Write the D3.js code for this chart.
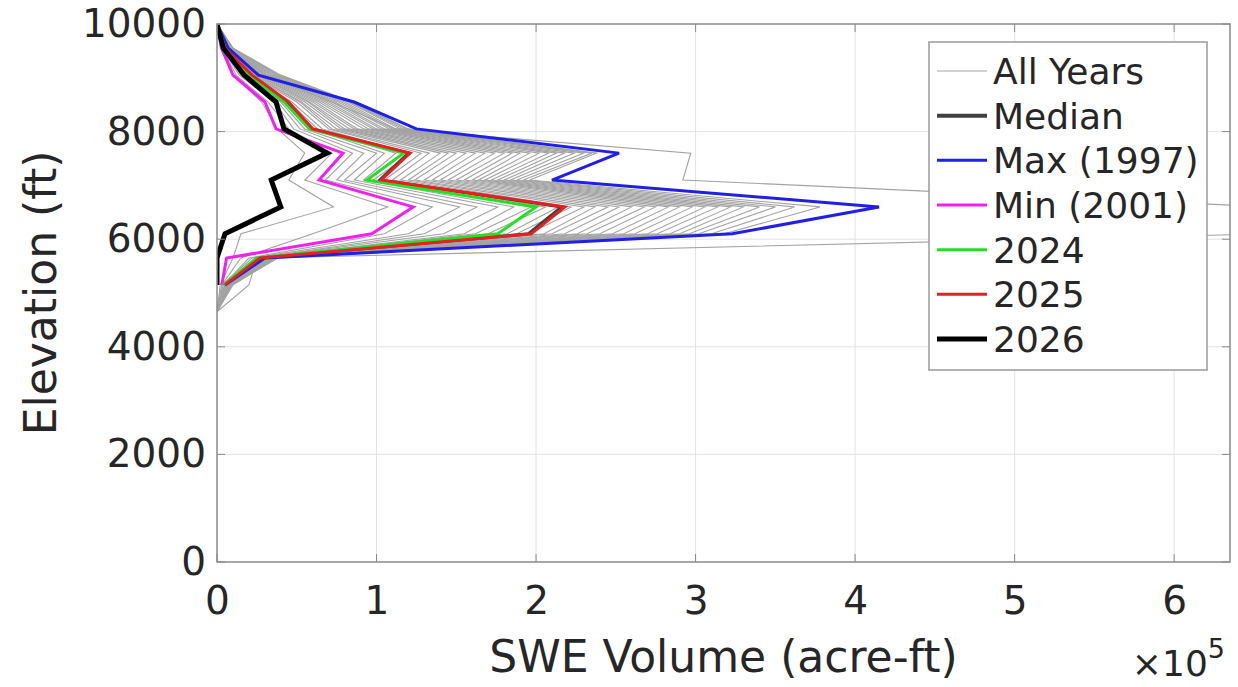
<!DOCTYPE html>
<html>
    <head>
        <title>SWE Volume by Elevation</title>
        <meta charset="utf-8" />
        <script src="https://d3js.org/d3.v7.min.js"></script>
        <style>
            body {
                margin: 0;
                background-color: white;
            }
            svg {
                font-family: 'DejaVu Sans', sans-serif;
            }
        </style>
    </head>
    <body>
        <svg></svg>
        <script>
            // elevation bins (ft)
            const elevations = [4650, 5150, 5650, 6100, 6600, 7100, 7600, 8050, 8550, 9050, 9550, 10000]

            // SWE volume per bin, x 10^5 acre-ft
            const allYears = [
                [0, 0.02, 0.10, 0.15, 0.73, 0.45, 0.55, 0.38, 0.28, 0.10, 0.02, 0],
                [0, 0.03, 0.15, 0.60, 1.07, 0.55, 0.72, 0.45, 0.32, 0.12, 0.03, 0],
                [0, 0.04, 0.20, 1.05, 1.35, 0.68, 0.85, 0.48, 0.36, 0.14, 0.03, 0],
                [0, 0.03, 0.22, 1.20, 1.52, 0.75, 0.92, 0.52, 0.38, 0.15, 0.04, 0],
                [0, 0.20, 0.25, 1.30, 1.63, 0.80, 1.00, 0.55, 0.40, 0.16, 0.04, 0],
                [0, 0.04, 0.24, 1.42, 1.76, 0.86, 1.05, 0.60, 0.42, 0.18, 0.04, 0],
                [0, 0.05, 0.26, 1.55, 1.86, 0.92, 1.12, 0.63, 0.45, 0.19, 0.05, 0],
                [0, 0.06, 0.28, 1.62, 1.97, 0.98, 1.22, 0.66, 0.47, 0.20, 0.05, 0],
                [0, 0.05, 0.27, 1.70, 2.06, 1.05, 1.28, 0.70, 0.50, 0.21, 0.05, 0],
                [0, 0.06, 0.29, 1.82, 2.14, 1.10, 1.33, 0.72, 0.52, 0.22, 0.06, 0],
                [0, 0.05, 0.30, 1.88, 2.22, 1.15, 1.40, 0.75, 0.53, 0.23, 0.06, 0],
                [0, 0.06, 0.28, 1.95, 2.30, 1.20, 1.45, 0.78, 0.55, 0.24, 0.06, 0],
                [0, 0.07, 0.31, 2.05, 2.37, 1.24, 1.50, 0.80, 0.57, 0.25, 0.06, 0],
                [0, 0.06, 0.30, 2.10, 2.45, 1.30, 1.56, 0.83, 0.58, 0.26, 0.07, 0],
                [0, 0.07, 0.32, 2.18, 2.52, 1.35, 1.62, 0.86, 0.60, 0.27, 0.07, 0],
                [0, 0.06, 0.31, 2.26, 2.60, 1.40, 1.68, 0.88, 0.62, 0.28, 0.07, 0],
                [0, 0.07, 0.33, 2.32, 2.68, 1.45, 1.74, 0.92, 0.64, 0.29, 0.07, 0],
                [0, 0.08, 0.32, 2.40, 2.75, 1.50, 1.80, 0.95, 0.66, 0.30, 0.08, 0],
                [0, 0.07, 0.34, 2.48, 2.83, 1.55, 1.85, 0.98, 0.68, 0.31, 0.08, 0],
                [0, 0.08, 0.33, 2.55, 2.90, 1.60, 1.90, 1.00, 0.70, 0.32, 0.08, 0],
                [0, 0.07, 0.35, 2.62, 2.98, 1.64, 1.96, 1.03, 0.72, 0.33, 0.08, 0],
                [0, 0.08, 0.34, 2.70, 3.06, 1.68, 2.02, 1.05, 0.74, 0.34, 0.09, 0],
                [0, 0.09, 0.36, 2.76, 3.14, 1.72, 2.08, 1.08, 0.76, 0.35, 0.09, 0],
                [0, 0.08, 0.35, 2.84, 3.22, 1.76, 2.13, 1.10, 0.78, 0.36, 0.09, 0],
                [0, 0.09, 0.37, 2.90, 3.30, 1.80, 2.18, 1.12, 0.80, 0.37, 0.10, 0],
                [0, 0.08, 0.36, 2.96, 3.40, 1.84, 2.24, 1.15, 0.82, 0.38, 0.10, 0],
                [0, 0.09, 0.38, 3.02, 3.50, 1.88, 2.30, 1.17, 0.83, 0.38, 0.10, 0],
                [0, 0.10, 0.37, 3.10, 3.62, 1.92, 2.35, 1.19, 0.84, 0.39, 0.10, 0],
                [0, 0.09, 0.38, 3.18, 3.78, 1.96, 2.38, 1.20, 0.85, 0.40, 0.10, 0],
                [0, 0.06, 0.30, 6.60, 6.60, 2.92, 2.97, 1.12, 0.72, 0.30, 0.08, 0],
            ]
            const median = [null, 0.05, 0.27, 1.95, 2.16, 1.02, 1.20, 0.60, 0.44, 0.21, 0.05, 0]
            const max1997 = [null, 0.05, 0.30, 3.23, 4.15, 2.10, 2.52, 1.25, 0.86, 0.26, 0.07, 0]
            const min2001 = [null, 0.03, 0.06, 0.97, 1.23, 0.64, 0.79, 0.37, 0.30, 0.10, 0.03, 0]
            const y2024 = [null, 0.04, 0.25, 1.76, 2.00, 0.94, 1.17, 0.58, 0.42, 0.20, 0.05, 0]
            const y2025 = [null, 0.05, 0.27, 1.97, 2.18, 1.03, 1.21, 0.60, 0.45, 0.22, 0.05, 0]
            const y2026 = [null, 0, 0, 0.05, 0.40, 0.34, 0.69, 0.42, 0.37, 0.17, 0.04, 0]

            const xTicks = [0, 1, 2, 3, 4, 5, 6]
            const yTicks = [0, 2000, 4000, 6000, 8000, 10000]
            const legendLabels = ['All Years', 'Median', 'Max (1997)', 'Min (2001)', '2024', '2025', '2026']

            const width = 1238
            const height = 687
            const plotLeft = 217
            const plotRight = 1230
            const plotTop = 24
            const plotBottom = 562

            const svg = d3.select('svg')
                .attr('width', width)
                .attr('height', height)
                .attr('viewBox', [0, 0, width, height])

            const xScale = d3.scaleLinear().domain([0, 6.35]).range([plotLeft, plotRight])
            const yScale = d3.scaleLinear().domain([0, 10000]).range([plotBottom, plotTop])

            // grid
            xTicks.slice(1).forEach((t) => {
                svg.append('line')
                    .attr('x1', xScale(t)).attr('x2', xScale(t))
                    .attr('y1', plotTop).attr('y2', plotBottom)
                    .style('stroke', '#e3e3e3')
                    .style('stroke-width', '1px')
            })
            yTicks.slice(1, -1).forEach((t) => {
                svg.append('line')
                    .attr('x1', plotLeft).attr('x2', plotRight)
                    .attr('y1', yScale(t)).attr('y2', yScale(t))
                    .style('stroke', '#e3e3e3')
                    .style('stroke-width', '1px')
            })

            svg.append('clipPath')
                .attr('id', 'plot')
                .append('rect')
                .attr('x', plotLeft).attr('y', plotTop)
                .attr('width', plotRight - plotLeft).attr('height', plotBottom - plotTop)

            const plot = svg.append('g').attr('clip-path', 'url(#plot)')

            const line = d3.line()
                .defined((d) => d !== null)
                .x((d) => xScale(d))
                .y((d, i) => yScale(elevations[i]))

            plot.selectAll('path.year')
                .data(allYears)
                .enter()
                .append('path')
                .attr('class', 'year')
                .attr('d', line)
                .style('fill', 'none')
                .style('stroke', '#a3a3a3')
                .style('stroke-width', '1.1px')

            const series = [
                { values: median, color: '#404040', w: 3 },
                { values: max1997, color: '#1f1fe6', w: 3 },
                { values: min2001, color: '#f020f0', w: 3 },
                { values: y2024, color: '#22e022', w: 3 },
                { values: y2025, color: '#e62020', w: 3 },
                { values: y2026, color: '#000000', w: 5 },
            ]
            series.forEach((s) => {
                plot.append('path')
                    .attr('d', line(s.values))
                    .style('fill', 'none')
                    .style('stroke', s.color)
                    .style('stroke-width', s.w + 'px')
                    .style('stroke-linejoin', 'miter')
            })

            // axes box
            const axisColor = '#8a8a8a'
            svg.append('rect')
                .attr('x', plotLeft).attr('y', plotTop)
                .attr('width', plotRight - plotLeft).attr('height', plotBottom - plotTop)
                .style('fill', 'none')
                .style('stroke', axisColor)
                .style('stroke-width', '1.5px')

            const xAxis = d3.axisBottom(xScale)
                .tickValues(xTicks)
                .tickFormat(d3.format('d'))
                .tickSize(0)
                .tickPadding(24)
            svg.append('g')
                .attr('transform', `translate(0,${plotBottom})`)
                .call(xAxis)
                .call((g) => g.select('.domain').remove())
                .selectAll('text')
                .style('font-size', '39px')
                .style('fill', '#262626')
                .style('font-family', 'DejaVu Sans')

            const yAxis = d3.axisLeft(yScale)
                .tickValues(yTicks)
                .tickFormat(d3.format('d'))
                .tickSize(0)
                .tickPadding(11)
            svg.append('g')
                .attr('transform', `translate(${plotLeft},0)`)
                .call(yAxis)
                .call((g) => g.select('.domain').remove())
                .selectAll('text')
                .style('font-size', '39px')
                .style('fill', '#262626')
                .style('font-family', 'DejaVu Sans')

            // inward ticks on all four sides
            const tickLen = 8
            xTicks.forEach((t) => {
                svg.append('line')
                    .attr('x1', xScale(t)).attr('x2', xScale(t))
                    .attr('y1', plotBottom).attr('y2', plotBottom - tickLen)
                    .style('stroke', axisColor)
                svg.append('line')
                    .attr('x1', xScale(t)).attr('x2', xScale(t))
                    .attr('y1', plotTop).attr('y2', plotTop + tickLen)
                    .style('stroke', axisColor)
            })
            yTicks.forEach((t) => {
                svg.append('line')
                    .attr('x1', plotLeft).attr('x2', plotLeft + tickLen)
                    .attr('y1', yScale(t)).attr('y2', yScale(t))
                    .style('stroke', axisColor)
                svg.append('line')
                    .attr('x1', plotRight).attr('x2', plotRight - tickLen)
                    .attr('y1', yScale(t)).attr('y2', yScale(t))
                    .style('stroke', axisColor)
            })

            // axis labels
            svg.append('text')
                .attr('x', (plotLeft + plotRight) / 2)
                .attr('y', 672)
                .attr('text-anchor', 'middle')
                .style('font-size', '44px')
                .style('fill', '#262626')
                .text('SWE Volume (acre-ft)')

            svg.append('text')
                .attr('transform', `translate(56,${(plotTop + plotBottom) / 2}) rotate(-90)`)
                .attr('text-anchor', 'middle')
                .style('font-size', '44px')
                .style('fill', '#262626')
                .text('Elevation (ft)')

            const expo = svg.append('text')
                .attr('x', 1225)
                .attr('y', 676)
                .attr('text-anchor', 'end')
                .style('font-size', '36px')
                .style('fill', '#262626')
            expo.append('tspan').text('\u00d710')
            expo.append('tspan')
                .attr('dy', -18)
                .style('font-size', '27px')
                .text('5')

            // legend
            const legendStyles = [
                { color: '#a3a3a3', w: 1.2 },
                { color: '#404040', w: 4 },
                { color: '#1f1fe6', w: 3 },
                { color: '#f020f0', w: 3 },
                { color: '#22e022', w: 3 },
                { color: '#e62020', w: 3 },
                { color: '#000000', w: 5 },
            ]
            const legend = svg.append('g')
            legend.append('rect')
                .attr('x', 929).attr('y', 42)
                .attr('width', 278).attr('height', 328)
                .style('fill', 'white')
                .style('stroke', '#9a9a9a')
                .style('stroke-width', '1.5px')

            const rowY = d3.scaleLinear().domain([0, 6]).range([71, 339])
            legendLabels.forEach((label, i) => {
                legend.append('line')
                    .attr('x1', 937).attr('x2', 987)
                    .attr('y1', rowY(i)).attr('y2', rowY(i))
                    .style('stroke', legendStyles[i].color)
                    .style('stroke-width', legendStyles[i].w + 'px')
                legend.append('text')
                    .attr('x', 993)
                    .attr('y', rowY(i))
                    .attr('dy', '0.36em')
                    .style('font-size', '36px')
                    .style('fill', '#262626')
                    .text(label)
            })
        </script>
    </body>
</html>
